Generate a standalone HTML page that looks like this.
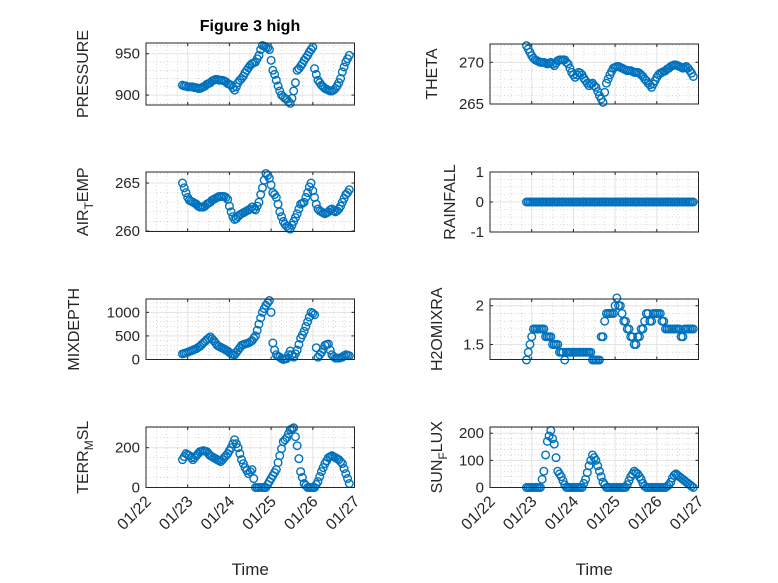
<!DOCTYPE html>
<html><head><meta charset="utf-8"><style>
body{margin:0;background:#fff}
svg{display:block;font-family:"Liberation Sans",sans-serif}
</style></head><body>
<svg id="fig" width="778" height="583" viewBox="0 0 778 583">
<rect width="778" height="583" fill="#fff"/>
<text x="250" y="31" text-anchor="middle" font-size="16" font-weight="bold" fill="#000">Figure 3 high</text>
</svg>
<script>
const xTickLabels=["01/22","01/23","01/24","01/25","01/26","01/27"];
const pressure=[912,911,911,910,910,910,910,909,909,908,
908,909,910,911,913,914,915,917,918,919,
919,918,918,918,917,916,914,913,912,909,
906,910,915,918,920,923,927,930,933,936,
938,939,940,944,948,955,960,959,958,957,
955,942,930,925,918,911,905,900,898,896,
895,892,890,896,905,915,930,932,935,938,
942,945,948,952,955,958,932,925,918,915,
912,910,908,907,906,905,905,906,908,911,
915,920,928,934,940,944,948];
const airTemp=[265,264.5,264,263.5,263.2,263.1,263,262.9,262.8,262.6,
262.5,262.5,262.5,262.6,262.8,262.9,263,263.2,263.3,263.4,
263.5,263.6,263.6,263.6,263.6,263.5,263.3,262.6,262,261.5,
261.2,261.3,261.5,261.7,261.8,261.9,262,262.1,262.2,262.3,
262.5,262.3,262.2,262.6,263,263.8,264.5,265.3,266,265.8,
265.5,264.8,264,263.8,263.5,262.8,262,261.5,261,260.7,
260.5,260.3,260.2,260.6,261,261.4,261.8,262.3,262.8,262.9,
263,263.5,264,264.6,265,264.2,263.5,262.8,262.3,262.1,
262,261.9,261.8,261.9,262,262.2,262.3,262.1,262,262.1,
262.3,262.6,263,263.4,263.8,264,264.3];
const mixDepth=[120,130,140,155,170,185,200,215,230,255,
280,315,350,385,420,450,480,440,400,350,
300,280,260,240,220,200,180,150,120,110,
100,150,200,250,300,315,330,340,350,375,
400,450,500,620,750,880,1000,1080,1150,1200,
1250,1000,350,200,100,70,50,20,0,10,
20,100,180,100,50,120,200,320,450,520,
600,700,800,900,1000,980,950,250,50,100,
150,220,300,320,330,200,100,60,30,30,
30,40,50,80,100,90,80];
const terrMsl=[140,155,170,165,160,150,140,150,160,170,
180,183,185,183,180,170,160,155,150,145,
140,135,130,140,150,160,170,185,200,220,
240,220,200,170,140,120,100,85,70,80,
90,45,0,0,0,0,0,0,0,15,
30,45,60,75,90,125,160,195,230,240,
250,270,290,295,300,255,210,145,80,50,
20,10,0,0,0,0,0,15,30,55,
80,100,120,135,150,155,160,155,150,145,
140,130,120,95,70,45,20];
const theta=[272,271.6,271.2,270.8,270.5,270.3,270.2,270.1,270,270,
270,269.9,269.8,269.9,270,269.8,269.6,269.9,270.2,270.3,
270.3,270.3,270.3,270,269.8,269.3,268.8,268.5,268.2,268.5,
268.8,268.7,268.5,268.1,267.8,267.5,267.2,267.4,267.5,267.2,
267,266.5,266,265.6,265.2,266.4,267.5,268,268.5,268.9,
269.3,269.4,269.5,269.5,269.4,269.3,269.2,269.1,269,269,
269,268.9,268.8,268.8,268.8,268.7,268.5,268.3,268,267.8,
267.5,267.3,267,267.4,267.8,268.2,268.5,268.7,268.8,268.9,
269,269.2,269.3,269.5,269.6,269.7,269.7,269.6,269.5,269.4,
269.3,269.4,269.5,269.3,269,268.7,268.3];
const rainfall=[0,0,0,0,0,0,0,0,0,0,0,0,0,0,0,0,0,0,0,0,
0,0,0,0,0,0,0,0,0,0,0,0,0,0,0,0,0,0,0,0,
0,0,0,0,0,0,0,0,0,0,0,0,0,0,0,0,0,0,0,0,
0,0,0,0,0,0,0,0,0,0,0,0,0,0,0,0,0,0,0,0,
0,0,0,0,0,0,0,0,0,0,0,0,0,0,0,0,0];
const h2oMix=[1.3,1.4,1.5,1.6,1.7,1.7,1.7,1.7,1.7,1.7,
1.7,1.6,1.6,1.6,1.6,1.5,1.5,1.5,1.5,1.4,
1.4,1.4,1.3,1.4,1.4,1.4,1.4,1.4,1.4,1.4,
1.4,1.4,1.4,1.4,1.4,1.4,1.4,1.4,1.3,1.3,
1.3,1.3,1.3,1.6,1.6,1.8,1.9,1.9,1.9,1.9,
1.9,2.0,2.1,2.0,2.0,1.9,1.8,1.8,1.7,1.7,
1.6,1.6,1.5,1.5,1.6,1.6,1.7,1.7,1.8,1.9,
1.9,1.8,1.8,1.9,1.9,1.9,1.9,1.9,1.8,1.8,
1.7,1.7,1.7,1.7,1.7,1.7,1.7,1.7,1.7,1.6,
1.6,1.7,1.7,1.7,1.7,1.7,1.7];
const sunFlux=[0,0,0,0,0,0,0,0,0,30,
60,120,170,190,210,180,160,110,60,50,
40,25,10,0,0,0,0,0,0,0,
0,0,0,15,30,55,80,100,120,110,
100,80,60,40,20,10,0,0,0,0,
0,0,0,0,0,0,0,0,10,25,
40,50,60,55,50,40,30,15,5,0,
0,0,0,0,0,0,0,0,0,0,
0,5,10,20,35,45,50,45,40,35,
30,25,20,15,10,5,0];

const NS="http://www.w3.org/2000/svg";
const svg=document.getElementById('fig');
function mk(tag,attrs,parent){const e=document.createElementNS(NS,tag);for(const k in attrs)e.setAttribute(k,attrs[k]);(parent||svg).appendChild(e);return e;}
const startDay=0.875; // first sample at 01/22 21:00, hourly samples
const panels=[
 {name:'pressure',vals:pressure,x0:146,x1:354.5,y0:43,y1:105,dom:[888,963],ticks:[900,950],minor:10,label:['PRESSURE'],lx:88,xlab:false},
 {name:'theta',vals:theta,x0:490,x1:698.5,y0:44,y1:104,dom:[265,272.2],ticks:[265,270],minor:1,label:['THETA'],lx:437,xlab:false},
 {name:'air-temp',vals:airTemp,x0:146,x1:354.5,y0:172,y1:231.5,dom:[259.95,266.15],ticks:[260,265],minor:1,label:['AIR','T','EMP'],lx:88,xlab:false},
 {name:'rainfall',vals:rainfall,x0:490,x1:698.5,y0:172,y1:232,dom:[-1,1],ticks:[-1,0,1],minor:0.25,label:['RAINFALL'],lx:455,xlab:false},
 {name:'mixdepth',vals:mixDepth,x0:146,x1:354.5,y0:299,y1:359.5,dom:[0,1283],ticks:[0,500,1000],minor:100,label:['MIXDEPTH'],lx:79,xlab:false},
 {name:'h2omixra',vals:h2oMix,x0:490,x1:698.5,y0:299,y1:359.5,dom:[1.306,2.087],ticks:[1.5,2],minor:0.1,label:['H2OMIXRA'],lx:442,xlab:false},
 {name:'terr-msl',vals:terrMsl,x0:146,x1:354.5,y0:427,y1:487.5,dom:[0,304],ticks:[0,200],minor:50,label:['TERR','M','SL'],lx:88,xlab:true},
 {name:'sun-flux',vals:sunFlux,x0:490,x1:698.5,y0:427,y1:487.5,dom:[0,223],ticks:[0,100,200],minor:20,label:['SUN','F','LUX'],lx:442,xlab:true}
];
panels.forEach(p=>{
 const g=mk('g',{});
 
 
 const xs=d=>p.x0+(d/5)*(p.x1-p.x0);
 const ys=v=>p.y1-(v-p.dom[0])/(p.dom[1]-p.dom[0])*(p.y1-p.y0);
 mk('rect',{x:p.x0,y:p.y0,width:p.x1-p.x0,height:p.y1-p.y0,fill:'#fff'},g);
 for(let d=0.25;d<5;d+=0.25){if(Math.abs(d-Math.round(d))<1e-6)continue;
  mk('line',{x1:xs(d),x2:xs(d),y1:p.y0,y2:p.y1,stroke:'#bbb','stroke-width':0.6,'stroke-dasharray':'1 2.5'},g);}
 const mstart=Math.ceil(p.dom[0]/p.minor)*p.minor;
 for(let v=mstart;v<=p.dom[1]+1e-9;v+=p.minor){
  if(p.ticks.some(t=>Math.abs(t-v)<1e-6))continue;
  mk('line',{x1:p.x0,x2:p.x1,y1:ys(v),y2:ys(v),stroke:'#bbb','stroke-width':0.6,'stroke-dasharray':'1 2.5'},g);}
 for(let d=1;d<5;d++) mk('line',{x1:xs(d),x2:xs(d),y1:p.y0,y2:p.y1,stroke:'#e3e3e3','stroke-width':1},g);
 p.ticks.forEach(t=>{
  mk('line',{x1:p.x0,x2:p.x1,y1:ys(t),y2:ys(t),stroke:'#e3e3e3','stroke-width':1},g);
  mk('line',{x1:p.x0,x2:p.x0+3,y1:ys(t),y2:ys(t),stroke:'#262626','stroke-width':1},g);
  mk('line',{x1:p.x1,x2:p.x1-3,y1:ys(t),y2:ys(t),stroke:'#262626','stroke-width':1},g);
  const tl=mk('text',{x:p.x0-6,y:ys(t)+5,'text-anchor':'end','font-size':15,fill:'#262626'},g);
  
  
  tl.textContent=String(t);
 });
 for(let d=0;d<=5;d++){
  mk('line',{x1:xs(d),x2:xs(d),y1:p.y1,y2:p.y1-3,stroke:'#262626','stroke-width':1},g);
  mk('line',{x1:xs(d),x2:xs(d),y1:p.y0,y2:p.y0+3,stroke:'#262626','stroke-width':1},g);
  if(p.xlab){
   const tx=xs(d)+6, ty=p.y1+15;
   const xl=mk('text',{x:tx,y:ty,'text-anchor':'end','font-size':16,fill:'#262626',transform:`rotate(-45 ${tx} ${ty})`},g);
   
   
   xl.textContent=xTickLabels[d];
  }
 }
 p.vals.forEach((v,i)=>{
  const day=startDay+i/24;
  const c=mk('circle',{cx:xs(day),cy:ys(v),r:3.8,fill:'none',stroke:'#0072BD','stroke-width':1.4},g);
  
  
 });
 mk('rect',{x:p.x0,y:p.y0,width:p.x1-p.x0,height:p.y1-p.y0,fill:'none',stroke:'#262626','stroke-width':1},g);
 const cy=(p.y0+p.y1)/2;
 const yl=mk('text',{x:p.lx,y:cy,'text-anchor':'middle','font-size':16,fill:'#262626',transform:`rotate(-90 ${p.lx} ${cy})`},g);
 
 
 if(p.label.length===1){yl.textContent=p.label[0];}
 else{
  const a=mk('tspan',{},yl);a.textContent=p.label[0];
  const b=mk('tspan',{dy:5,'font-size':12},yl);b.textContent=p.label[1];
  const c=mk('tspan',{dy:-5},yl);c.textContent=p.label[2];
 }
 if(p.xlab){
  const t=mk('text',{x:(p.x0+p.x1)/2,y:575,'text-anchor':'middle','font-size':17,fill:'#262626'},g);
  
  
  t.textContent='Time';
 }
});
</script>
</body></html>
